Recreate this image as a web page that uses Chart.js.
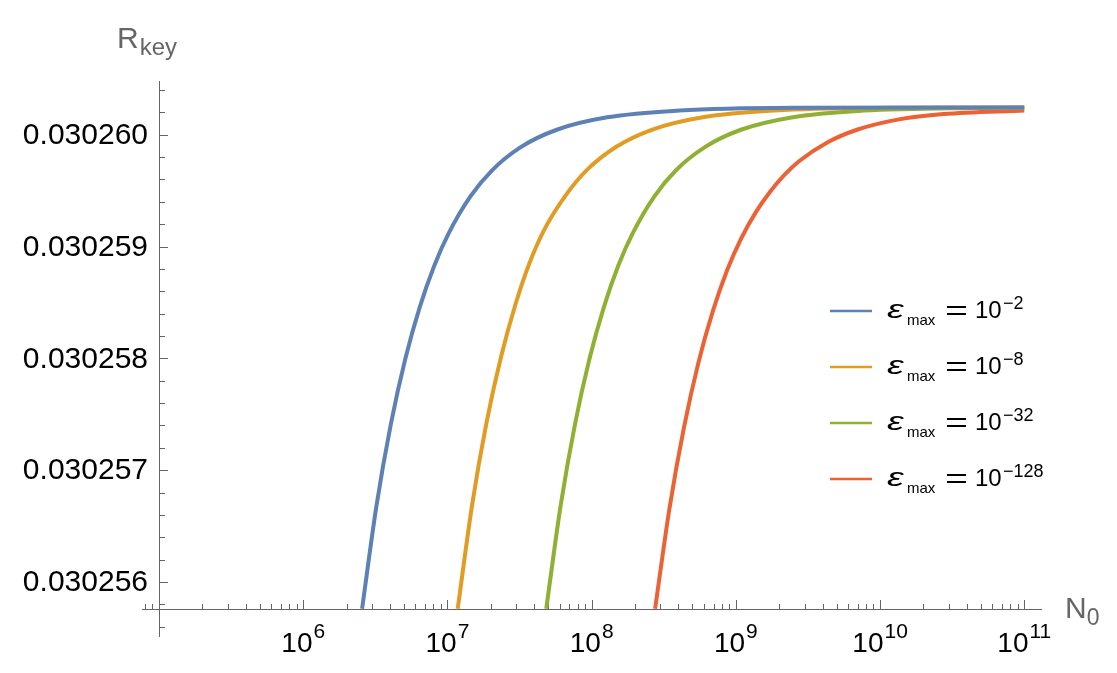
<!DOCTYPE html>
<html>
<head>
<meta charset="utf-8">
<script src="https://cdn.jsdelivr.net/npm/chart.js@4.4.0/dist/chart.umd.min.js"></script>
<style>
  html, body { margin: 0; padding: 0; background: #fff; }
  #wrap { width: 1117px; height: 673px; position: relative; }
</style>
</head>
<body>
<div id="wrap"><canvas id="chart"></canvas></div>
<script>
// ---- data (N_0, R_key) ----
const nBlue = [2.559e6, 3.221e6, 4.055e6, 5.105e6, 6.427e6, 8.091e6, 1.019e7, 1.439e7, 2.032e7, 3.221e7, 5.728e7, 1.282e8, 4.055e8, 2.559e9, 1e11];
const rBlue = [0.03025576, 0.030256683, 0.030257415, 0.030257997, 0.030258459, 0.030258827, 0.030259118, 0.030259447,
               0.03025968, 0.030259889, 0.030260045, 0.030260156, 0.030260217, 0.030260241, 0.030260245];

const nOrange = [1.178e7, 1.483e7, 1.866e7, 2.350e7, 2.958e7, 3.724e7, 4.688e7, 6.622e7, 9.354e7, 1.483e8, 2.636e8, 5.902e8, 1.866e9, 1.178e10, 1e11];
const rOrange = [0.03025576, 0.03025669, 0.030257425, 0.03025801, 0.03025848, 0.03025886, 0.03025915, 0.03025946,
                 0.03025969, 0.030259893, 0.030260047, 0.030260157, 0.030260218, 0.030260241, 0.030260245];

const nGreen = [4.842e7, 6.095e7, 7.674e7, 9.661e7, 1.216e8, 1.531e8, 1.928e8, 2.723e8, 3.846e8, 6.095e8, 1.084e9, 2.427e9, 7.674e9, 4.842e10, 1e11];
const rGreen = [0.03025576, 0.030256683, 0.030257415, 0.030257997, 0.030258459, 0.03025883, 0.03025912, 0.03025945,
                0.030259683, 0.03025989, 0.030260045, 0.030260155, 0.030260216, 0.03026024, 0.030260243];

const nRed = [2.754e8, 3.467e8, 4.365e8, 5.495e8, 6.918e8, 8.710e8, 1.096e9, 1.380e9, 1.738e9, 2.188e9, 2.754e9, 4.365e9, 6.918e9, 1.380e10, 2.754e10, 1e11];
const rRed = [0.03025576, 0.03025666, 0.03025738, 0.03025796, 0.03025842, 0.03025879, 0.03025908, 0.03025931,
              0.030259495, 0.030259645, 0.030259765, 0.030259935, 0.030260045, 0.03026014, 0.030260185, 0.030260218];

const seriesExponents = ['\u22122', '\u22128', '\u221232', '\u2212128'];
const seriesColors = ['#5E81B5', '#E19C24', '#8FB032', '#EB6235'];

const yTicks = [0.030256, 0.030257, 0.030258, 0.030259, 0.030260];
const xTickExps = [6, 7, 8, 9, 10, 11];

// plot range and where the axes cross
const xMin = 7.62e4, xMax = 1.327e11, xAxisOriginX = 1e5;
const yMin = 0.030255508, yMax = 0.030260481, xAxisAtY = 0.03025576;

const FONT = '"Liberation Sans", Arial, Helvetica, sans-serif';
const AXIS_GRAY = '#666666';

const toPoints = (xs, ys) => xs.map((x, i) => ({ x: x, y: ys[i] }));

// draws Mathematica-style crossing axes, inward ticks and labels
const axesPlugin = {
    id: 'axesPlugin',
    beforeDatasetsDraw(chart) {
        const ctx = chart.ctx;
        const xs = chart.scales.x, ys = chart.scales.y;
        const area = chart.chartArea;
        const ox = Math.round(xs.getPixelForValue(xAxisOriginX));
        const oy = Math.round(ys.getPixelForValue(xAxisAtY));

        ctx.save();
        ctx.fillStyle = AXIS_GRAY;
        ctx.fillRect(ox, Math.round(area.top), 1, Math.round(area.bottom - area.top));
        ctx.fillRect(Math.round(area.left), oy, Math.round(area.right - area.left), 1);

        // y ticks: minor every 0.2e-9, major every 1e-9
        const yPx = ys.getPixelForValue(yTicks[0]);
        const pxPerUnit = ys.getPixelForValue(yTicks[0]) - ys.getPixelForValue(yTicks[1]);
        for (let k = -2; k <= 22; k++) {
            const py = Math.round(yPx - k * 0.2 * pxPerUnit);
            if (py < area.top || py > area.bottom) continue;
            const len = (k % 5 === 0) ? 8 : 5;
            ctx.fillRect(ox + 1, py, len, 1);
        }
        // x ticks: decades major, 2..9 minor
        for (let e = 4; e <= 11; e++) {
            for (let m = 1; m <= 9; m++) {
                const v = m * Math.pow(10, e);
                if (v < xMin || v > xMax) continue;
                const px = Math.round(xs.getPixelForValue(v));
                const len = (m === 1) ? 9 : 5;
                ctx.fillRect(px, oy - len, 1, len);
            }
        }

        // y tick labels
        ctx.fillStyle = '#000';
        ctx.font = `30px ${FONT}`;
        ctx.textAlign = 'right';
        ctx.textBaseline = 'middle';
        yTicks.forEach(v => {
            ctx.fillText(v.toFixed(6), ox - 11, ys.getPixelForValue(v) + 1);
        });

        // x tick labels 10^n
        ctx.textAlign = 'left';
        ctx.textBaseline = 'alphabetic';
        xTickExps.forEach(e => {
            const px = xs.getPixelForValue(Math.pow(10, e));
            ctx.font = `28px ${FONT}`;
            const wBase = ctx.measureText('10').width;
            ctx.font = `21px ${FONT}`;
            const wSup = ctx.measureText(String(e)).width;
            const x0 = px - (wBase + 1 + wSup) / 2;
            ctx.font = `28px ${FONT}`;
            ctx.fillText('10', x0, oy + 43);
            ctx.font = `21px ${FONT}`;
            ctx.fillText(String(e), x0 + wBase + 1, oy + 29);
        });

        // axis labels
        ctx.fillStyle = AXIS_GRAY;
        ctx.font = `30px ${FONT}`;
        ctx.fillText('N', area.right + 23, oy + 9);
        const wN = ctx.measureText('N').width;
        ctx.font = `23px ${FONT}`;
        ctx.fillText('0', area.right + 23 + wN, oy + 16);

        ctx.font = `30px ${FONT}`;
        ctx.fillText('R', ox - 42, area.top - 33);
        const wR = ctx.measureText('R').width;
        ctx.font = `24px ${FONT}`;
        ctx.fillText('key', ox - 42 + wR + 1, area.top - 26);
        ctx.restore();
    }
};

// legend: coloured line + epsilon_max = 10^-k
const legendPlugin = {
    id: 'legendPlugin',
    afterDatasetsDraw(chart) {
        const ctx = chart.ctx;
        ctx.save();
        ctx.textAlign = 'left';
        ctx.textBaseline = 'alphabetic';
        seriesExponents.forEach((sup, i) => {
            const ly = 311 + i * 56;
            const base = ly + 7;
            ctx.strokeStyle = seriesColors[i];
            ctx.lineWidth = 2.5;
            ctx.beginPath();
            ctx.moveTo(830, ly);
            ctx.lineTo(872, ly);
            ctx.stroke();

            ctx.fillStyle = '#000';
            ctx.save();
            ctx.translate(887, base);
            ctx.scale(1.45, 1);
            ctx.font = `italic 26px ${FONT}`;
            ctx.fillText('\u03b5', 0, 0);
            ctx.restore();

            ctx.font = `15px ${FONT}`;
            ctx.fillText('max', 907, base + 7);
            ctx.fillRect(947, base - 12, 19, 2);
            ctx.fillRect(947, base - 5, 19, 2);
            ctx.font = `24px ${FONT}`;
            ctx.fillText('10', 975, base);
            ctx.font = `18px ${FONT}`;
            ctx.fillText(sup, 1003, base - 9);
        });
        ctx.restore();
    }
};

const mkSet = (xs, ys, color) => ({
    data: toPoints(xs, ys),
    borderColor: color,
    borderWidth: 4,
    pointRadius: 0,
    fill: false,
    cubicInterpolationMode: 'monotone'
});

new Chart(document.getElementById('chart').getContext('2d'), {
    type: 'line',
    data: {
        datasets: [
            mkSet(nBlue, rBlue, seriesColors[0]),
            mkSet(nOrange, rOrange, seriesColors[1]),
            mkSet(nGreen, rGreen, seriesColors[2]),
            mkSet(nRed, rRed, seriesColors[3])
        ]
    },
    options: {
        responsive: true,
        maintainAspectRatio: false,
        animation: false,
        layout: { padding: { left: 142, right: 75, top: 81, bottom: 36 } },
        plugins: { legend: { display: false }, tooltip: { enabled: false } },
        scales: {
            x: { type: 'logarithmic', min: xMin, max: xMax, display: false },
            y: { type: 'linear', min: yMin, max: yMax, display: false }
        }
    },
    plugins: [axesPlugin, legendPlugin]
});
</script>
</body>
</html>
